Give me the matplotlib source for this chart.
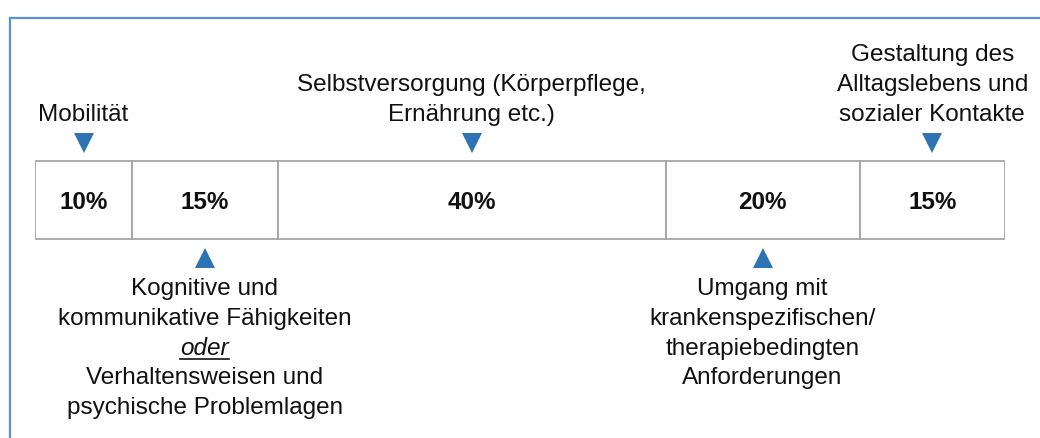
"""Gewichtung der Module im Begutachtungsinstrument als Balken mit Markierungen."""

import matplotlib

matplotlib.use("Agg")

import matplotlib.pyplot as plt
from matplotlib.lines import Line2D

plt.rcParams["font.family"] = ["Liberation Sans", "DejaVu Sans"]

# data
shares = [10, 15, 40, 20, 15]
labels = [
    ["Mobilität"],
    ["Kognitive und", "kommunikative Fähigkeiten", "oder",
     "Verhaltensweisen und", "psychische Problemlagen"],
    ["Selbstversorgung (Körperpflege,", "Ernährung etc.)"],
    ["Umgang mit", "krankenspezifischen/", "therapiebedingten", "Anforderungen"],
    ["Gestaltung des", "Alltagslebens und", "sozialer Kontakte"],
]
sides = ["above", "below", "above", "below", "above"]
emphasis = {"oder"}

THEME = {
    "text": "#111111",
    "edge": "#A6A6A6",
    "marker": "#2E74B5",
    "frame": "#5B8FD4",
}
FONT_SIZE = 17.5

W, H = 1040, 438
fig = plt.figure(figsize=(W / 100, H / 100), dpi=100)
fig.patch.set_facecolor("white")

# frame (only top and left edge visible in the cut-out)
fig.add_artist(Line2D([10 / W, 1], [1 - 18 / H, 1 - 18 / H], color=THEME["frame"], lw=1.6))
fig.add_artist(Line2D([10 / W, 10 / W], [0, 1 - 18 / H], color=THEME["frame"], lw=1.6))

# x in percent, y in pixels from the top
ax = fig.add_axes([35 / W, 0, 970 / W, 1])
ax.set_xlim(0, sum(shares))
ax.set_ylim(H, 0)
ax.axis("off")

starts = [sum(shares[:i]) for i in range(len(shares))]
centers = [s + v / 2 for s, v in zip(starts, shares)]

ax.barh(200, shares, left=starts, height=78, color="white",
        edgecolor=THEME["edge"], linewidth=1.3)

for c, v in zip(centers, shares):
    ax.text(c, 209, f"{v}%", ha="center", va="baseline", fontsize=FONT_SIZE,
            fontweight="bold", color=THEME["text"])

pitch = 29.8
emphasised = []
for c, lines, side in zip(centers, labels, sides):
    if side == "above":
        ax.plot(c, 142.5, marker="v", markersize=15, color=THEME["marker"], mew=0)
        baselines = [121 - (len(lines) - 1 - i) * pitch for i in range(len(lines))]
    else:
        ax.plot(c, 258, marker="^", markersize=15, color=THEME["marker"], mew=0)
        baselines = [295 + i * pitch for i in range(len(lines))]
    for line, y in zip(lines, baselines):
        t = ax.text(c, y, line, ha="center", va="baseline", fontsize=FONT_SIZE,
                    color=THEME["text"],
                    fontstyle="italic" if line in emphasis else "normal")
        if line in emphasis:
            emphasised.append(t)

# underline the emphasised word
fig.canvas.draw()
renderer = fig.canvas.get_renderer()
for t in emphasised:
    bb = t.get_window_extent(renderer).transformed(ax.transData.inverted())
    y = t.get_position()[1] + 4
    ax.plot([bb.x0, bb.x1], [y, y], color=THEME["text"], lw=1.2)

fig.savefig("out.png", dpi=100, facecolor=fig.get_facecolor())
